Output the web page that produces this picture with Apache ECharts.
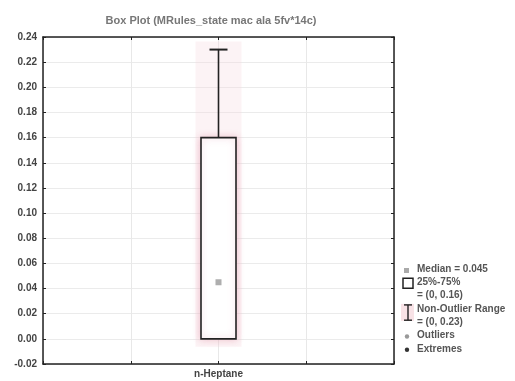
<!DOCTYPE html>
<html><head><meta charset="utf-8">
<script src="https://cdn.jsdelivr.net/npm/echarts@6/dist/echarts.min.js"></script>
<style>html,body{margin:0;padding:0;background:#fff}#c{width:515px;height:381px}</style>
</head><body><div id="c"></div>
<script>
const titleText = 'Box Plot (MRules_state mac ala 5fv*14c)';
const categories = ['n-Heptane'];
const boxMin = [0];
const boxQ1 = [0];
const boxMedian = [0.045];
const boxQ3 = [0.16];
const boxMax = [0.23];
const yMin = -0.02, yMax = 0.24, yStep = 0.02;

const chart = echarts.init(document.getElementById('c'), null, {renderer: 'canvas'});
const FONT = 'Liberation Sans, Arial, sans-serif';
const boxData = categories.map((c, i) => [i, boxMin[i], boxQ1[i], boxMedian[i], boxQ3[i], boxMax[i]]);
const medData = categories.map((c, i) => [i, boxMedian[i]]);

const lx = 404, ly = 270, lh = 13.3, tx = 417;
const txt = (x, y, s) => ({type: 'text', left: x, top: y - 6, style: {text: s, fontSize: 10, fontWeight: 'bold', fontFamily: FONT, fill: '#555'}});
const legend = [
  {type: 'rect', shape: {x: lx, y: ly - 2, width: 5, height: 5}, style: {fill: '#aaa'}},
  txt(tx, ly, 'Median = ' + boxMedian[0]),
  {type: 'rect', shape: {x: lx - 1, y: ly + lh - 5, width: 10, height: 10}, style: {fill: '#fff', stroke: '#222', lineWidth: 1.5}},
  txt(tx, ly + lh, '25%-75%'),
  txt(tx, ly + 2 * lh, '= (' + boxQ1[0] + ', ' + boxQ3[0] + ')'),
  {type: 'rect', shape: {x: lx - 3, y: ly + 3 * lh - 6, width: 13, height: 17}, style: {fill: 'rgba(240,190,200,0.45)'}},
  {type: 'polyline', shape: {points: [[lx, ly + 3 * lh - 5], [lx + 8, ly + 3 * lh - 5]]}, style: {stroke: '#222', lineWidth: 1.4}},
  {type: 'polyline', shape: {points: [[lx + 4, ly + 3 * lh - 5], [lx + 4, ly + 4 * lh - 3]]}, style: {stroke: '#222', lineWidth: 1.4}},
  {type: 'polyline', shape: {points: [[lx, ly + 4 * lh - 3], [lx + 8, ly + 4 * lh - 3]]}, style: {stroke: '#222', lineWidth: 1.4}},
  txt(tx, ly + 3 * lh, 'Non-Outlier Range'),
  txt(tx, ly + 4 * lh, '= (' + boxMin[0] + ', ' + boxMax[0] + ')'),
  {type: 'circle', shape: {cx: lx + 3, cy: ly + 5 * lh, r: 2.2}, style: {fill: '#999'}},
  txt(tx, ly + 5 * lh, 'Outliers'),
  {type: 'circle', shape: {cx: lx + 3, cy: ly + 6 * lh, r: 2.2}, style: {fill: '#333'}},
  txt(tx, ly + 6 * lh, 'Extremes')
];

chart.setOption({
  animation: false,
  backgroundColor: '#fff',
  title: {text: titleText, left: 206, top: 10, textAlign: 'center',
    textStyle: {fontSize: 11, fontWeight: 'bold', color: '#777', fontFamily: FONT}},
  grid: {left: 43, right: 121, top: 37, bottom: 17, show: false},
  xAxis: [
    {type: 'category', data: categories, position: 'bottom', boundaryGap: true,
      axisLine: {onZero: false, lineStyle: {color: '#222', width: 1.5}}, axisTick: {show: false},
      axisLabel: {fontSize: 10, fontWeight: 'bold', color: '#444', fontFamily: FONT, margin: 5}, splitLine: {show: false}},
    {type: 'value', min: 0, max: 4, interval: 1, position: 'bottom',
      axisLine: {show: false, onZero: false}, axisTick: {show: true, inside: true, length: 3, lineStyle: {color: '#222'}},
      axisLabel: {show: false}, splitLine: {show: true, lineStyle: {color: '#e8e8e8', width: 1}}},
    {type: 'value', min: 0, max: 4, interval: 1, position: 'top',
      axisLine: {show: true, onZero: false, lineStyle: {color: '#222', width: 1.5}}, axisTick: {show: true, inside: true, length: 3, lineStyle: {color: '#222'}},
      axisLabel: {show: false}, splitLine: {show: false}}
  ],
  yAxis: [
    {type: 'value', min: yMin, max: yMax, interval: yStep, position: 'left',
      axisLine: {show: true, onZero: false, lineStyle: {color: '#222', width: 1.5}},
      axisTick: {show: true, inside: true, length: 3, lineStyle: {color: '#222'}},
      axisLabel: {fontSize: 10, fontWeight: 'bold', color: '#444', fontFamily: FONT, margin: 6,
        formatter: v => v.toFixed(2)},
      splitLine: {show: true, lineStyle: {color: '#ebebeb', width: 1}}},
    {type: 'value', min: yMin, max: yMax, interval: yStep, position: 'right',
      axisLine: {show: true, onZero: false, lineStyle: {color: '#222', width: 1.5}},
      axisTick: {show: true, inside: true, length: 3, lineStyle: {color: '#222'}},
      axisLabel: {show: false}, splitLine: {show: false}}
  ],
  series: [
    {type: 'custom', xAxisIndex: 0, yAxisIndex: 0, data: boxData, z: 3,
      renderItem: function (params, api) {
        const x = api.value(0);
        const pMin = api.coord([x, api.value(1)]);
        const pQ1 = api.coord([x, api.value(2)]);
        const pQ3 = api.coord([x, api.value(4)]);
        const pMax = api.coord([x, api.value(5)]);
        const half = 17.5, cap = 9, cx = pQ3[0];
        return {type: 'group', children: [
          {type: 'rect', shape: {x: cx - 23, y: pMax[1] - 8, width: 46, height: pMin[1] - pMax[1] + 16},
            style: {fill: 'rgba(245,215,222,0.3)'}},
          {type: 'rect', shape: {x: cx - half, y: pQ3[1], width: 2 * half, height: pQ1[1] - pQ3[1]},
            style: {fill: '#fff', stroke: '#222', lineWidth: 1.6, shadowBlur: 7, shadowColor: 'rgba(225,130,155,0.45)'}},
          {type: 'line', shape: {x1: cx, y1: pQ3[1], x2: cx, y2: pMax[1]}, style: {stroke: '#222', lineWidth: 1.6}},
          {type: 'line', shape: {x1: cx - cap, y1: pMax[1], x2: cx + cap, y2: pMax[1]}, style: {stroke: '#222', lineWidth: 2}},
          {type: 'line', shape: {x1: cx, y1: pQ1[1], x2: cx, y2: pMin[1]}, style: {stroke: '#222', lineWidth: 1.6}}
        ]};
      }},
    {type: 'scatter', xAxisIndex: 0, yAxisIndex: 0, data: medData, symbol: 'rect', symbolSize: 6, z: 4,
      itemStyle: {color: '#9a9a9a'}}
  ],
  graphic: legend
});
</script></body></html>
